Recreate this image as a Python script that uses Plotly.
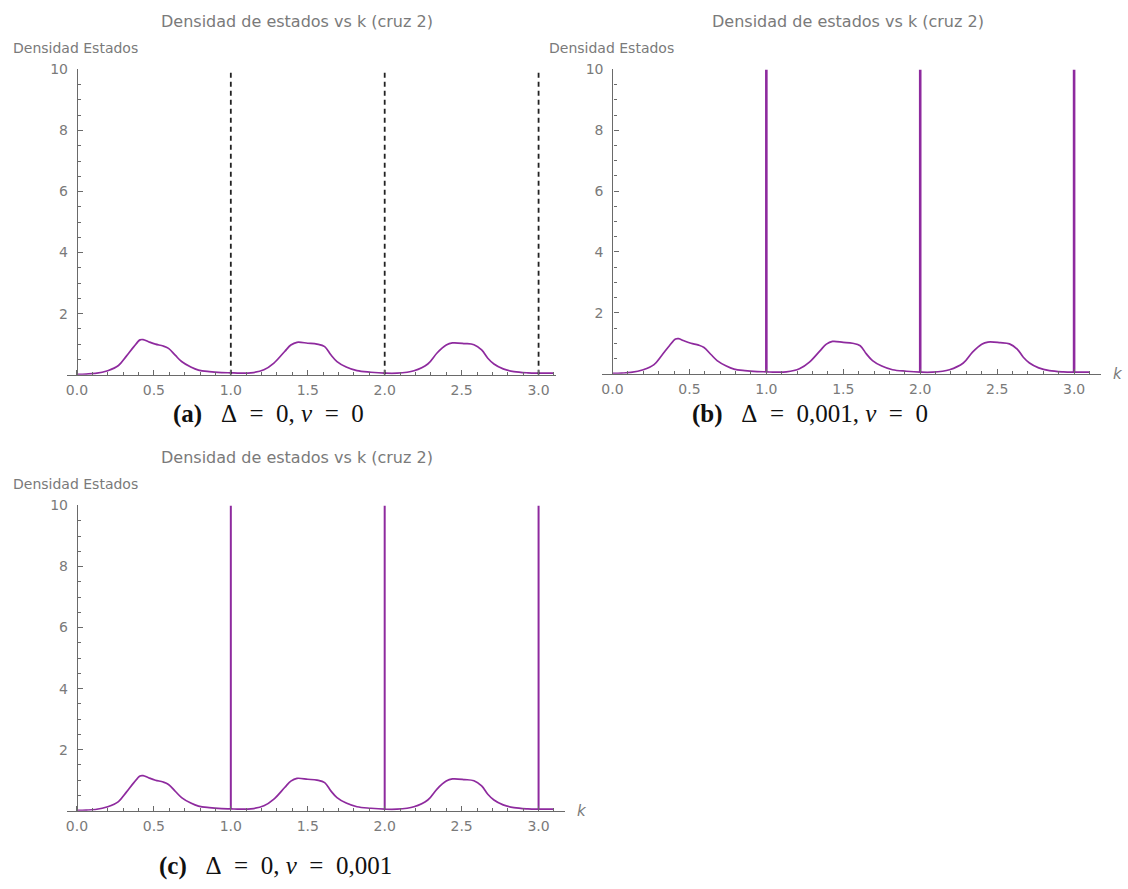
import plotly.graph_objects as go

# ---------------- data ----------------
k_vals = [0.0, 0.06, 0.12, 0.20, 0.27, 0.32, 0.37, 0.41, 0.43, 0.465, 0.51, 0.56, 0.595,
          0.64, 0.68, 0.74, 0.79, 0.86, 0.94, 1.0, 1.06, 1.13, 1.215, 1.28, 1.35, 1.39,
          1.43, 1.50, 1.56, 1.61, 1.65, 1.69, 1.75, 1.82, 1.91, 2.0, 2.08, 2.19, 2.28,
          2.34, 2.40, 2.44, 2.52, 2.58, 2.63, 2.67, 2.71, 2.77, 2.84, 2.93, 3.0, 3.05, 3.1]
dos_vals = [0.01, 0.02, 0.04, 0.13, 0.30, 0.60, 0.92, 1.14, 1.15, 1.08, 1.00, 0.94, 0.86,
            0.63, 0.43, 0.25, 0.15, 0.10, 0.07, 0.06, 0.05, 0.06, 0.16, 0.38, 0.76, 0.97,
            1.06, 1.03, 1.00, 0.92, 0.65, 0.43, 0.25, 0.13, 0.08, 0.05, 0.05, 0.13, 0.35,
            0.71, 0.97, 1.04, 1.02, 0.98, 0.81, 0.54, 0.35, 0.19, 0.10, 0.06, 0.05, 0.05, 0.05]
singular_k = [1.0, 2.0, 3.0]          # poles / exclusions
spike_top = [10.0, 10.0, 10.0]        # spikes clipped at plot top
spike_base = [0.06, 0.05, 0.05]

x_ticks = [0.0, 0.5, 1.0, 1.5, 2.0, 2.5, 3.0]
x_ticklabels = ["0.0", "0.5", "1.0", "1.5", "2.0", "2.5", "3.0"]
y_ticks = [2, 4, 6, 8, 10]
y_ticklabels = ["2", "4", "6", "8", "10"]

title_text = "Densidad de estados vs k (cruz 2)"
ylabel_text = "Densidad Estados"
SP = "&nbsp;"
EQ = SP * 2 + "=" + SP * 2
captions = ["<b>(a)</b>" + SP * 3 + "Δ" + EQ + "0," + SP + "<i>ν</i>" + EQ + "0",
            "<b>(b)</b>" + SP * 3 + "Δ" + EQ + "0,001," + SP + "<i>ν</i>" + EQ + "0",
            "<b>(c)</b>" + SP * 3 + "Δ" + EQ + "0," + SP + "<i>ν</i>" + EQ + "0,001"]

# ---------------- layout geometry (pixels) ----------------
W, H = 1128, 889
PURPLE = "#8e2a9e"
AXIS = "#6a6a6a"
TXT = "#7a7a7a"
FONT = "DejaVu Sans"

def px(x):
    return x / W

def py(y):
    return 1 - y / H

panels = [
    dict(xl=66, xr=555, yax=76, yt=62, yb=370, xr_k=[-0.065, 3.11], k_lbl=False, tx=296),
    dict(xl=602, xr=1101, yax=612, yt=62, yb=369, xr_k=[-0.065, 3.175], k_lbl=True, tx=848),
    dict(xl=66, xr=565, yax=76, yt=502, yb=810, xr_k=[-0.065, 3.175], k_lbl=True, tx=296),
]

fig = go.Figure()
annotations = []

for i, p in enumerate(panels):
    n = "" if i == 0 else str(i + 1)
    xa, ya = "x" + n, "y" + n
    fig.add_trace(go.Scatter(x=k_vals, y=dos_vals, mode="lines", xaxis=xa, yaxis=ya,
                             line=dict(color=PURPLE, width=1.7, shape="spline", smoothing=1.0),
                             showlegend=False, hoverinfo="skip"))
    if i == 0:
        for kk, top in zip(singular_k, spike_top):
            fig.add_trace(go.Scatter(x=[kk, kk], y=[0, top], mode="lines", xaxis=xa, yaxis=ya,
                                     line=dict(color="#222222", width=1.8, dash="5px,4px"),
                                     showlegend=False, hoverinfo="skip"))
    else:
        w = 2.6 if i == 1 else 2.0
        for kk, b, top in zip(singular_k, spike_base, spike_top):
            fig.add_trace(go.Scatter(x=[kk, kk], y=[b, top], mode="lines", xaxis=xa, yaxis=ya,
                                     line=dict(color=PURPLE, width=w),
                                     showlegend=False, hoverinfo="skip"))

    xkey = "xaxis" + n
    ykey = "yaxis" + n
    fig.layout[xkey] = dict(
        domain=[px(p["xl"]), px(p["xr"])], range=p["xr_k"], anchor=ya,
        showgrid=False, zeroline=False, showline=True, linecolor=AXIS, linewidth=1.3,
        ticks="inside", ticklen=5, tickwidth=1, tickcolor=AXIS,
        tickvals=x_ticks, ticktext=x_ticklabels, ticklabelstandoff=2,
        tickfont=dict(family=FONT, size=14, color=TXT),
        minor=dict(dtick=0.1, tick0=0, ticks="inside", ticklen=3, tickcolor=AXIS, tickwidth=1),
        fixedrange=True,
    )
    fig.layout[ykey] = dict(
        domain=[py(p["yb"]), py(p["yt"])], range=[0, 10], anchor="free",
        position=px(p["yax"]),
        showgrid=False, zeroline=False, showline=True, linecolor=AXIS, linewidth=1.3,
        ticks="inside", ticklen=5, tickwidth=1, tickcolor=AXIS,
        tickvals=y_ticks, ticktext=y_ticklabels, ticklabelstandoff=6,
        tickfont=dict(family=FONT, size=14, color=TXT),
        minor=dict(dtick=0.5, tick0=0, ticks="inside", ticklen=3, tickcolor=AXIS, tickwidth=1),
        fixedrange=True,
    )
    annotations.append(dict(xref="paper", yref="paper", x=px(p["tx"]), y=py(p["yt"] - 48),
                            text=title_text, showarrow=False, xanchor="center", yanchor="middle",
                            font=dict(family=FONT, size=16, color=TXT)))
    annotations.append(dict(xref="paper", yref="paper", x=px(p["yax"] - 66), y=py(p["yt"] - 22),
                            text=ylabel_text, showarrow=False, xanchor="left", yanchor="middle",
                            font=dict(family=FONT, size=14, color=TXT)))
    if p["k_lbl"]:
        annotations.append(dict(xref="paper", yref="paper", x=px(p["xr"] + 10), y=py(p["yb"]),
                                text="<i>k</i>", showarrow=False, xanchor="left", yanchor="middle",
                                font=dict(family=FONT, size=15, color=TXT)))

caption_pos = [(268, 410), (810, 410), (275, 866)]
for cap, (cx, cy) in zip(captions, caption_pos):
    annotations.append(dict(xref="paper", yref="paper", x=px(cx), y=py(cy), text=cap,
                            showarrow=False, xanchor="center", yanchor="middle",
                            font=dict(family="Liberation Serif", size=25, color="#111111")))

fig.update_layout(width=W, height=H, margin=dict(l=0, r=0, t=0, b=0),
                  paper_bgcolor="white", plot_bgcolor="white",
                  annotations=annotations, showlegend=False)

fig.write_html("out.html", config={"displayModeBar": False})
